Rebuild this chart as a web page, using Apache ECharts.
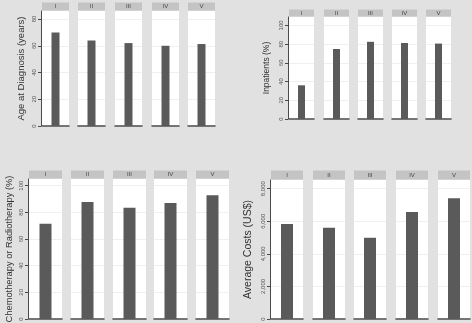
<!DOCTYPE html>
<html>
<head>
<meta charset="utf-8">
<script src="https://cdn.jsdelivr.net/npm/echarts@6/dist/echarts.min.js"></script>
<style>
  html, body { margin: 0; padding: 0; background: #e1e1e1; }
  #main { width: 472px; height: 323px; }
</style>
</head>
<body>
<div id="main"></div>
<script>
// stages (facets)
const stages = ['I', 'II', 'III', 'IV', 'V'];
// values
const ageAtDiagnosis = [70, 64, 62, 60, 61.3];
const inpatientsPct = [36, 74.8, 82.5, 81.2, 80.6];
const chemoRadioPct = [71.4, 87.8, 83.5, 87, 92.8];
const averageCostsUSD = [5830, 5600, 4985, 6565, 7410];
// axis tick labels
const ageTicks = [0, 20, 40, 60, 80];
const pctTicks = [0, 20, 40, 60, 80, 100];
const costTicks = [0, 2000, 4000, 6000, 8000];

// layout of the four panels (pixels)
const panels = [
    { values: ageAtDiagnosis, ticks: ageTicks, max: 86, name: 'Age at Diagnosis (years)', nameSize: 9.5, nameGap: 15,
      lefts: [42, 78, 115, 152, 188], width: 27, top: 11, bottom: 126, stripH: 8, barWidth: 8 },
    { values: inpatientsPct, ticks: pctTicks, max: 109, name: 'Inpatients (%)', nameSize: 8.5, nameGap: 17,
      lefts: [289, 324, 358, 392, 426], width: 25, top: 17, bottom: 119, stripH: 7, barWidth: 7 },
    { values: chemoRadioPct, ticks: pctTicks, max: 105, name: 'Chemotherapy or Radiotherapy (%)', nameSize: 9.3, nameGap: 14,
      lefts: [29, 71, 113, 154, 196], width: 33, top: 179, bottom: 319, stripH: 8, barWidth: 12 },
    { values: averageCostsUSD, ticks: costTicks, max: 8530, name: 'Average Costs (US$)', nameSize: 10.5, nameGap: 16,
      lefts: [271, 313, 354, 396, 438], width: 32, top: 180, bottom: 319, stripH: 9, barWidth: 12 }
];

const grid = [], xAxis = [], yAxis = [], series = [], graphic = [];
let g = 0;
panels.forEach(function (p) {
    stages.forEach(function (stage, i) {
        grid.push({
            left: p.lefts[i], top: p.top, width: p.width, height: p.bottom - p.top,
            outerBoundsMode: 'none',
            show: true, backgroundColor: '#ffffff', borderWidth: 0
        });
        xAxis.push({
            gridIndex: g, type: 'category', data: [stage],
            axisLine: { lineStyle: { color: '#4a4a4a', width: 1.5 } },
            axisTick: { show: false }, axisLabel: { show: false }
        });
        yAxis.push({
            gridIndex: g, type: 'value', min: 0, max: p.max,
            offset: 1,
            name: i === 0 ? p.name : '',
            nameLocation: 'middle', nameGap: p.nameGap,
            nameTextStyle: { fontFamily: 'Liberation Sans', fontSize: p.nameSize, color: '#333' },
            axisLine: { show: i === 0, lineStyle: { color: '#4a4a4a' } },
            axisTick: { show: i === 0, length: 3, customValues: p.ticks, lineStyle: { color: '#4a4a4a' } },
            axisLabel: {
                show: i === 0, customValues: p.ticks, rotate: 90, margin: 4,
                fontFamily: 'Liberation Sans', fontSize: 6, color: '#555',
                formatter: function (v) { return v.toLocaleString('en-US'); }
            },
            splitLine: { show: true, lineStyle: { color: '#f0f0f0', width: 1 } }
        });
        series.push({
            type: 'bar', xAxisIndex: g, yAxisIndex: g,
            data: [p.values[i]], barWidth: p.barWidth,
            itemStyle: { color: '#5a5a5a' }, silent: true
        });
        // facet strip
        graphic.push({
            type: 'rect',
            shape: { x: p.lefts[i], y: p.top - p.stripH - 0.5, width: p.width, height: p.stripH },
            style: { fill: '#c4c4c4' }
        });
        graphic.push({
            type: 'text',
            x: p.lefts[i] + p.width / 2, y: p.top - p.stripH / 2 - 0.5,
            style: { text: stage, fill: '#444', font: '6px "Liberation Sans"', align: 'center', verticalAlign: 'middle' }
        });
        g++;
    });
});

const chart = echarts.init(document.getElementById('main'));
chart.setOption({
    backgroundColor: '#e1e1e1',
    animation: false,
    grid: grid,
    xAxis: xAxis,
    yAxis: yAxis,
    series: series,
    graphic: graphic
});
</script>
</body>
</html>
